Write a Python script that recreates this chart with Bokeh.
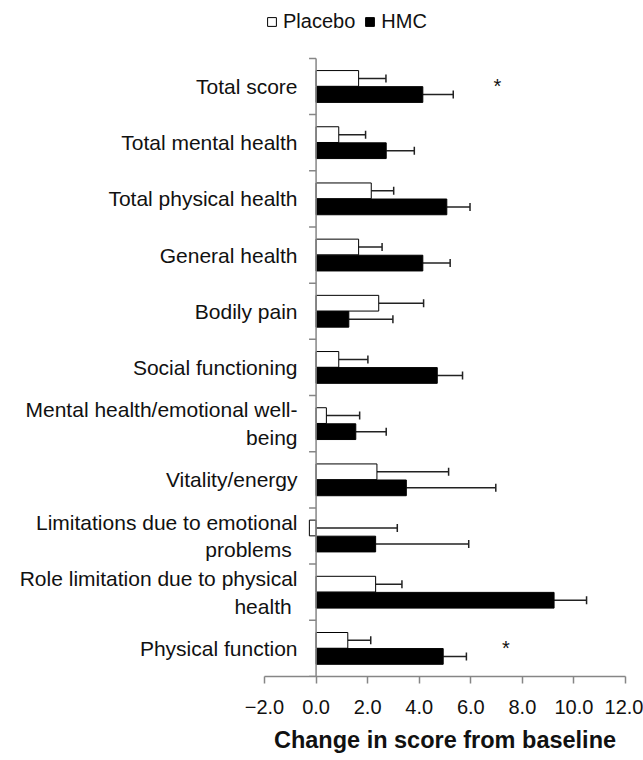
import math
from bokeh.plotting import figure
from bokeh.models import (Range1d, ColumnDataSource, Whisker, TeeHead,
                          FixedTicker, Legend, LegendItem)
from bokeh.transform import dodge
from bokeh.core.properties import value
from bokeh.embed import file_html
from bokeh.resources import INLINE

# ---- data (top to bottom) ----
categories = ["Total score", "Total mental health", "Total physical health", "General health",
              "Bodily pain", "Social functioning", "Mental health/emotional well-\nbeing",
              "Vitality/energy", "Limitations due to emotional\nproblems ",
              "Role limitation due to physical\nhealth ", "Physical function"]
placebo = [1.65, 0.88, 2.14, 1.65, 2.43, 0.88, 0.40, 2.36, -0.26, 2.31, 1.23]
placebo_err = [1.06, 1.04, 0.87, 0.91, 1.74, 1.13, 1.29, 2.78, 3.41, 1.02, 0.89]
hmc = [4.14, 2.72, 5.07, 4.14, 1.27, 4.70, 1.54, 3.50, 2.31, 9.23, 4.93]
hmc_err = [1.18, 1.09, 0.90, 1.06, 1.71, 0.98, 1.18, 3.47, 3.61, 1.26, 0.90]
x_ticks = [-2, 0, 2, 4, 6, 8, 10, 12]
x_tick_labels = ["\u22122.0", "0.0", "2.0", "4.0", "6.0", "8.0", "10.0", "12.0"]
sig_categories = ["Total score", "Physical function"]
sig_x = [7.03, 7.36]
sig_marks = ["*", "*"]

FONT = "Liberation Sans"
AXIS_GRAY = "#868686"
TEXT = "#111111"

n = len(categories)
ypos = [n - i - 0.5 for i in range(n)]          # category band centres, top to bottom
src = ColumnDataSource(dict(
    y=ypos,
    placebo=placebo,
    p_hi=[v + e for v, e in zip(placebo, placebo_err)],
    hmc=hmc,
    h_hi=[v + e for v, e in zip(hmc, hmc_err)],
))

p = figure(width=643, height=760, title=None,
           y_range=Range1d(0, 12.03),   # extra room above the categories for the legend
           x_range=Range1d(-2, 12),
           output_backend="svg", toolbar_location=None,
           min_border_left=264, min_border_right=18, min_border_top=0, min_border_bottom=84)
p.outline_line_color = None
p.xgrid.visible = False
p.ygrid.visible = False

OFF = 0.143
H = 0.28
rp = p.hbar(y=dodge("y", OFF), left=0, right="placebo", height=H,
            fill_color="white", line_color="black", line_width=1, source=src)
rh = p.hbar(y=dodge("y", -OFF), left=0, right="hmc", height=H,
            fill_color="black", line_color="black", line_width=1, source=src)

for off, lo, hi in [(OFF, "placebo", "p_hi"), (-OFF, "hmc", "h_hi")]:
    w = Whisker(source=src, base=dodge("y", off), lower=lo, upper=hi,
                dimension="width", line_color="#222222", line_width=1.5,
                upper_head=TeeHead(size=8, line_color="#222222", line_width=1.5), lower_head=None)
    p.add_layout(w)

sig_src = ColumnDataSource(dict(y=[ypos[categories.index(c)] for c in sig_categories],
                                x=sig_x, t=sig_marks))
p.text(x="x", y="y", text="t", source=sig_src, text_font=value(FONT), text_font_size="20px",
       text_align="center", text_baseline="middle", text_color=TEXT)

# category labels on the left axis (no line, no ticks)
ya = p.yaxis[0]
ya.ticker = FixedTicker(ticks=ypos)
ya.major_label_overrides = dict(zip(ypos, categories))
ya.axis_line_color = None
ya.major_tick_line_color = None
ya.minor_tick_line_color = None
ya.major_tick_out = 0
ya.major_tick_in = 0
ya.major_label_standoff = -33
ya.major_label_text_font = FONT
ya.major_label_text_font_size = "21px"
ya.major_label_text_color = TEXT

# vertical axis line at x=0, with short ticks at the category boundaries
p.segment(x0=[0], y0=[0], x1=[0], y1=[n], line_color=AXIS_GRAY, line_width=1.5)
boundaries = list(range(n + 1))
p.ray(x=[0] * len(boundaries), y=boundaries, length=7, length_units="screen", angle=math.pi,
      line_color=AXIS_GRAY, line_width=1.5)

xa = p.xaxis[0]
xa.ticker = FixedTicker(ticks=x_ticks)
xa.major_label_overrides = dict(zip(x_ticks, x_tick_labels))
xa.axis_line_color = AXIS_GRAY
xa.axis_line_width = 1.5
xa.major_tick_line_color = AXIS_GRAY
xa.major_tick_line_width = 1.5
xa.major_tick_out = 7
xa.major_tick_in = 0
xa.minor_tick_line_color = None
xa.major_label_standoff = 16
xa.major_label_text_font = FONT
xa.major_label_text_font_size = "20px"
xa.major_label_text_color = TEXT
xa.axis_label = "Change in score from baseline"
xa.axis_label_text_font = FONT
xa.axis_label_text_font_size = "23.5px"
xa.axis_label_text_font_style = "bold"
xa.axis_label_text_color = TEXT
xa.axis_label_standoff = 10

legend = Legend(items=[LegendItem(label="Placebo", renderers=[rp]),
                       LegendItem(label="HMC", renderers=[rh])],
                orientation="horizontal", location=(2, 643),
                glyph_width=11, glyph_height=11, label_standoff=6, spacing=9,
                padding=0, margin=0, border_line_color=None, background_fill_alpha=0,
                label_text_font=FONT, label_text_font_size="20px", label_text_color=TEXT,
                label_height=20)
p.add_layout(legend)

open("out.html", "w").write(file_html(p, INLINE))
